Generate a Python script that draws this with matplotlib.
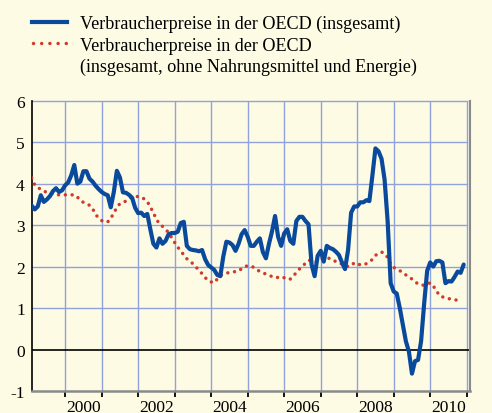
import numpy as np
import matplotlib
matplotlib.use('Agg')
import matplotlib.pyplot as plt
from matplotlib.lines import Line2D

# Monatswerte, Feb 1999 bis Dez 2010 (Vorjahresveraenderung in %)
start_year = 1999 + 1 / 12

gesamt = [
    3.47, 3.38, 3.45, 3.72, 3.56, 3.62, 3.70, 3.82, 3.89, 3.80, 3.84,
    3.96, 4.03, 4.20, 4.45, 4.00, 4.05, 4.30, 4.30, 4.12, 4.05, 3.95, 3.87,
    3.80, 3.75, 3.72, 3.43, 3.80, 4.31, 4.15, 3.79, 3.78, 3.73, 3.66, 3.42,
    3.29, 3.30, 3.22, 3.27, 2.90, 2.55, 2.46, 2.68, 2.55, 2.62, 2.78, 2.81,
    2.81, 2.84, 3.05, 3.08, 2.50, 2.42, 2.40, 2.39, 2.37, 2.40, 2.18, 2.04,
    1.98, 1.92, 1.80, 1.77, 2.25, 2.60, 2.58, 2.52, 2.38, 2.55, 2.78, 2.88,
    2.72, 2.50, 2.50, 2.60, 2.68, 2.35, 2.20, 2.55, 2.85, 3.22, 2.72, 2.50,
    2.80, 2.90, 2.62, 2.55, 3.10, 3.20, 3.20, 3.10, 3.02, 2.05, 1.77, 2.26,
    2.38, 2.12, 2.50, 2.45, 2.42, 2.36, 2.28, 2.10, 1.94, 2.40, 3.30, 3.45,
    3.45, 3.55, 3.55, 3.60, 3.58, 4.20, 4.85, 4.78, 4.60, 4.10, 3.10, 1.60,
    1.40, 1.35, 1.00, 0.60, 0.20, -0.05, -0.58, -0.28, -0.25, 0.20, 1.10, 1.90,
    2.10, 2.00, 2.13, 2.14, 2.10, 1.60, 1.65, 1.64, 1.75, 1.88, 1.85, 2.05,
]

kern = [
    4.14, 3.97, 3.90, 3.87, 3.82, 3.79, 3.77, 3.75, 3.74, 3.73, 3.73,
    3.73, 3.73, 3.73, 3.73, 3.68, 3.59, 3.55, 3.51, 3.48, 3.40, 3.26, 3.17,
    3.11, 3.07, 3.08, 3.16, 3.30, 3.42, 3.52, 3.55, 3.58, 3.63, 3.68, 3.69,
    3.69, 3.68, 3.63, 3.57, 3.44, 3.30, 3.14, 3.03, 2.97, 2.90, 2.82, 2.70,
    2.58, 2.47, 2.38, 2.28, 2.19, 2.13, 2.07, 1.99, 1.91, 1.83, 1.74, 1.66,
    1.63, 1.61, 1.70, 1.78, 1.82, 1.84, 1.86, 1.87, 1.88, 1.89, 1.95, 2.00,
    2.02, 2.02, 1.98, 1.93, 1.88, 1.85, 1.82, 1.79, 1.76, 1.73, 1.74, 1.76,
    1.73, 1.69, 1.70, 1.77, 1.86, 1.94, 2.01, 2.08, 2.15, 2.15, 2.12, 2.12,
    2.17, 2.20, 2.20, 2.20, 2.16, 2.12, 2.09, 2.06, 2.04, 2.00, 2.02, 2.09,
    2.08, 2.04, 2.04, 2.07, 2.12, 2.17, 2.27, 2.32, 2.35, 2.32, 2.22, 2.05,
    1.98, 1.94, 1.90, 1.86, 1.80, 1.75, 1.70, 1.64, 1.58, 1.56, 1.55, 1.57,
    1.61, 1.53, 1.43, 1.30, 1.27, 1.25, 1.23, 1.21, 1.20, 1.19, 1.19,
]

yticks = [-1, 0, 1, 2, 3, 4, 5, 6]
jahre = list(range(2000, 2012))
jahr_labels = ['2000', '2002', '2004', '2006', '2008', '2010']

label1 = 'Verbraucherpreise in der OECD (insgesamt)'
label2 = 'Verbraucherpreise in der OECD'
label3 = '(insgesamt, ohne Nahrungsmittel und Energie)'

bg = '#fdfbe4'
blau = '#0a4a9c'
rot = '#d03a2c'
gitter = '#8fa2dc'
grau = '#8a8a8a'

plt.rcParams['font.family'] = ['Liberation Serif', 'DejaVu Serif']

fig = plt.figure(figsize=(4.92, 4.14), dpi=100, facecolor=bg)
ax = fig.add_axes([0.0644, 0.0531, 0.8909, 0.7012])
ax.set_facecolor(bg)

x_min, x_max = start_year, 2011.09
ax.set_xlim(x_min, x_max)
ax.set_ylim(-1, 6)

# Gitter
for j in jahre:
    ax.axvline(j, color=gitter, lw=1.0, zorder=1)
for v in yticks:
    if v in (-1, 0):
        continue
    ax.plot([x_min, 2011], [v, v], color=gitter, lw=1.0, zorder=1, clip_on=False)
ax.axhline(0, color='black', lw=1.2, zorder=2)

t_gesamt = start_year + np.arange(len(gesamt)) / 12
t_kern = start_year + np.arange(len(kern)) / 12

ax.plot(t_kern, kern, color=rot, lw=2.5, linestyle=(0, (0.01, 1.95)),
        dash_capstyle='round', zorder=3)
ax.plot(t_gesamt, gesamt, color=blau, lw=3.0, solid_joinstyle='round',
        solid_capstyle='round', zorder=4)

# Achsen
ax.spines['top'].set_visible(False)
ax.spines['left'].set_color('black')
ax.spines['left'].set_linewidth(1.2)
ax.spines['right'].set_color(grau)
ax.spines['right'].set_linewidth(1.5)
ax.spines['bottom'].set_color(grau)
ax.spines['bottom'].set_linewidth(1.8)

ax.set_yticks(yticks)
ax.set_yticklabels([str(v) for v in yticks])
ax.tick_params(axis='y', length=0, labelsize=12.5, pad=5,
               labelleft=True, labelright=True, left=False, right=False)
# rechts weiter abgesetzt
for t in ax.yaxis.get_major_ticks():
    t.label2.set_x(1.0 + 15 / (0.8909 * 492))

ax.set_xticks(jahre)
ax.set_xticklabels([])
ax.set_xticks([int(s) + 0.5 for s in jahr_labels], minor=True)
ax.set_xticklabels(jahr_labels, minor=True)
ax.tick_params(axis='x', which='major', length=4, width=1.3, color='black',
               direction='out')
ax.tick_params(axis='x', which='minor', length=0, labelsize=12.5, pad=6)

# Legende
fig.add_artist(Line2D([32 / 492, 67 / 492], [1 - 23 / 414, 1 - 23 / 414],
                      color=blau, lw=3.0, transform=fig.transFigure))
fig.add_artist(Line2D([33 / 492, 66 / 492], [1 - 44 / 414, 1 - 44 / 414],
                      color=rot, lw=2.5, linestyle=(0, (0.01, 2.35)),
                      dash_capstyle='round', transform=fig.transFigure))
tx = 80 / 492
fig.text(tx, 1 - 29.3 / 414, label1, fontsize=13.1, va='baseline')
fig.text(tx, 1 - 50.7 / 414, label2, fontsize=13.1, va='baseline')
fig.text(tx, 1 - 71.5 / 414, label3, fontsize=13.1, va='baseline')

fig.savefig('out.png', dpi=100, facecolor=bg)
